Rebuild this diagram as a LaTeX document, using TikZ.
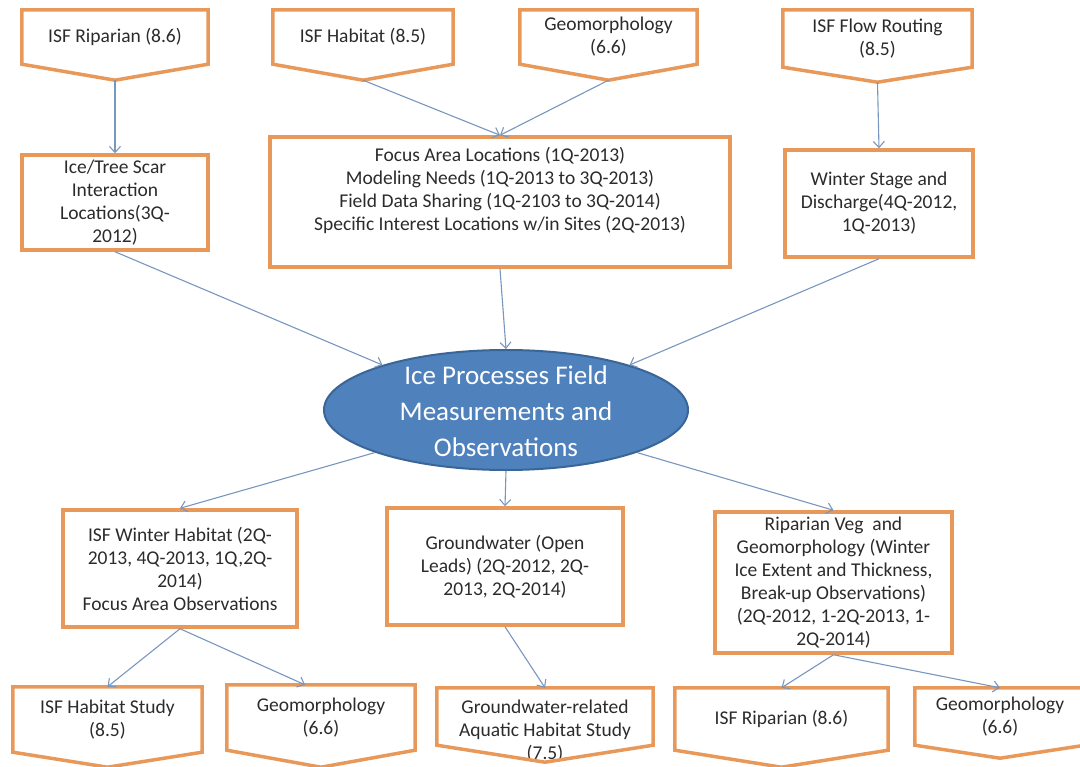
\documentclass[tikz,border=0pt]{standalone}
\usepackage{fontspec}
\setmainfont{Carlito}
\usetikzlibrary{arrows.meta, shapes.geometric}

\definecolor{boxorange}{HTML}{E8995A}
\definecolor{linkblue}{HTML}{7896BE}
\definecolor{ellfill}{HTML}{4F81BD}
\definecolor{elldraw}{HTML}{3A6597}
\definecolor{textgray}{HTML}{2B2B2B}

\tikzset{
    txt/.style={text=textgray, align=center, inner sep=1pt,
        font=\fontsize{19.5}{23}\selectfont},
    box/.style={txt, draw=boxorange, line width=3.5pt},
    pent/.style={txt},
    pentline/.style={draw=boxorange, line width=3.5pt},
    link/.style={draw=linkblue, line width=1.1pt,
        -{Straight Barb[length=6pt,width=11pt]}}
}

\begin{document}
\begin{tikzpicture}[x=1pt,y=-1pt]
    \useasboundingbox (0,0) rectangle (1080,767);

    \node[pent, minimum width=186pt, minimum height=54pt] (ripT) at (115,37)
    {ISF Riparian (8.6)};
    \node[pent, minimum width=180pt, minimum height=54pt] (habT) at (363,37)
    {ISF Habitat (8.5)};
    \node[pent, minimum width=177pt, minimum height=54pt] (geoT) at (608.5,37)
    {Geomorphology\\(6.6)};
    \node[pent, minimum width=189pt, minimum height=57pt] (flowT) at (877.5,38.5)
    {ISF Flow Routing\\(8.5)};

    \node[box, minimum width=186pt, minimum height=95pt] (ice) at (115,202.5)
    {Ice/Tree Scar\\Interaction\\Locations(3Q-\\2012)};
    \node[box, minimum width=460pt, minimum height=130pt] (focus) at (500,202) {};
    \node[txt] (focustxt) at (500,190)
    {Focus Area Locations (1Q-2013)\\Modeling Needs (1Q-2013 to 3Q-2013)\\
        Field Data Sharing (1Q-2103 to 3Q-2014)\\
        Specific Interest Locations w/in Sites (2Q-2013)};
    \node[box, minimum width=188pt, minimum height=107pt] (winter) at (879,203.5)
    {Winter Stage and\\Discharge(4Q-2012,\\1Q-2013)};

    \node[ellipse, draw=elldraw, fill=ellfill, line width=2pt, inner sep=0pt,
        minimum width=364pt, minimum height=120pt] (ell) at (506,410) {};
    \node[text=white, align=center, font=\fontsize{27}{36}\selectfont] (elltxt)
    at (506,411) {Ice Processes Field\\Measurements and\\Observations};

    \node[box, minimum width=234pt, minimum height=117pt] (wh) at (180,568.5)
    {ISF Winter Habitat (2Q-\\2013, 4Q-2013, 1Q,2Q-\\2014)\\Focus Area Observations};
    \node[box, minimum width=236pt, minimum height=117pt] (gw) at (505,566.5)
    {Groundwater (Open\\Leads) (2Q-2012, 2Q-\\2013, 2Q-2014)};
    \node[box, minimum width=237pt, minimum height=141pt] (rv) at (833.5,582.5)
    {Riparian Veg\ \ and\\Geomorphology (Winter\\Ice Extent and Thickness,\\
        Break-up Observations)\\(2Q-2012, 1-2Q-2013, 1-\\2Q-2014)};

    \node[pent, minimum width=189pt, minimum height=65pt] (hs) at (107.5,719.5)
    {ISF Habitat Study\\(8.5)};
    \node[pent, minimum width=188pt, minimum height=65pt] (geoB1) at (321,717.5)
    {Geomorphology\\(6.6)};
    \node[pent, minimum width=216pt, minimum height=57pt] (gwr) at (545,716.5) {};
    \node[txt] (gwrtxt) at (545,731)
    {Groundwater-related\\Aquatic Habitat Study\\(7.5)};
    \node[pent, minimum width=213pt, minimum height=62pt] (ripB) at (781.5,719)
    {ISF Riparian (8.6)};
    \node[pent, minimum width=170pt, minimum height=57pt] (geoB2) at (1000,716.5)
    {Geomorphology\\(6.6)};

    \foreach \n/\d in {ripT/16, habT/16, geoT/16, flowT/15, hs/15,
        geoB1/17, gwr/17, ripB/17, geoB2/13} {
        \coordinate (\n-tip) at ([yshift=-\d pt]\n.south);
        \draw[pentline] (\n.north west) -- (\n.north east) -- (\n.south east)
        -- (\n-tip) -- (\n.south west) -- cycle;
    }

    \draw[link] (ripT-tip) -- (ice.north);
    \draw[link] (habT-tip) -- (focus.north);
    \draw[link] (geoT-tip) -- (focus.north);
    \draw[link] (flowT-tip) -- (winter.north);
    \draw[link] (ice.south) -- (ell.160);
    \draw[link] (focus.south) -- (ell.north);
    \draw[link] (winter.south) -- (ell.20);
    \draw[link] (ell.198) -- (wh.north);
    \draw[link] (ell.south) -- (gw.north);
    \draw[link] (ell.-18) -- (rv.north);
    \draw[link] (wh.south) -- (hs.north);
    \draw[link] (wh.south) -- ([xshift=-16pt]geoB1.north);
    \draw[link] (gw.south) -- (gwr.north);
    \draw[link] (rv.south) -- (ripB.north);
    \draw[link] (rv.south) -- (geoB2.north);
\end{tikzpicture}
\end{document}
